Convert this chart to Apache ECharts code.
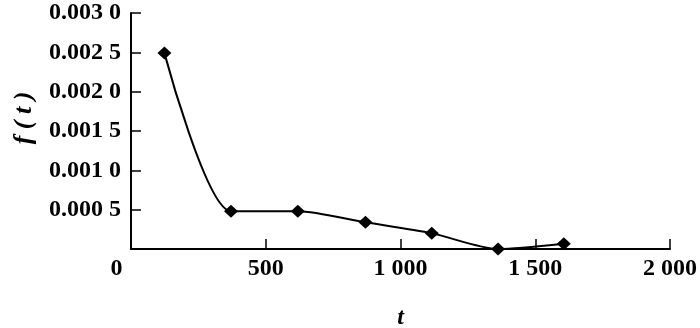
<!DOCTYPE html>
<html>
<head>
<meta charset="utf-8">
<script src="https://cdn.jsdelivr.net/npm/echarts@6/dist/echarts.min.js"></script>
<style>html,body{margin:0;padding:0;background:#fff}#c{width:700px;height:328px}</style>
</head>
<body>
<div id="c"></div>
<script>
const tValues = [124, 371, 619, 870, 1116, 1362, 1606];
const fValues = [0.00249, 0.00048, 0.00048, 0.00034, 0.00020, 0.0, 0.000068];
const xTicks = [0, 500, 1000, 1500, 2000];
const yTicks = [0, 0.0005, 0.001, 0.0015, 0.002, 0.0025, 0.003];
const xName = 't';
const yName = 'f ( t )';

const FONT = "'Liberation Serif','Times New Roman',serif";
const chart = echarts.init(document.getElementById('c'), null, {renderer: 'canvas'});

function fmtX(v) {
  if (v === 0) return '{z|0}';
  const s = String(Math.round(v));
  return s.length > 3 ? s.slice(0, s.length - 3) + ' ' + s.slice(-3) : s;
}
function fmtY(v) {
  if (Math.abs(v) < 1e-12) return '';
  const s = v.toFixed(4);
  return s.slice(0, 5) + ' ' + s.slice(5);
}

chart.setOption({
  backgroundColor: '#fff',
  animation: false,
  grid: {left: 131, right: 30, top: 13, bottom: 79, outerBoundsMode: 'none', containLabel: false},
  xAxis: {
    type: 'value',
    min: xTicks[0], max: xTicks[xTicks.length - 1], interval: 500,
    name: xName, nameLocation: 'middle', nameGap: 57,
    nameTextStyle: {fontFamily: FONT, fontStyle: 'italic', fontWeight: 'bold', fontSize: 24, color: '#000'},
    axisLine: {show: true, lineStyle: {color: '#000', width: 2}},
    axisTick: {show: true, inside: true, length: 10, lineStyle: {color: '#000', width: 1.5}},
    splitLine: {show: false},
    axisLabel: {
      margin: 8, color: '#000', fontFamily: FONT, fontWeight: 'bold', fontSize: 24,
      formatter: fmtX,
      rich: {z: {fontFamily: FONT, fontWeight: 'bold', fontSize: 24, color: '#000', padding: [0, 29, 0, 0]}}
    }
  },
  yAxis: {
    type: 'value',
    min: yTicks[0], max: yTicks[yTicks.length - 1], interval: 0.0005,
    name: yName, nameLocation: 'middle', nameGap: 94, nameRotate: 90,
    nameTextStyle: {fontFamily: FONT, fontStyle: 'italic', fontWeight: 'bold', fontSize: 26, color: '#000', padding: [0, 0, 0, 26]},
    axisLine: {show: true, lineStyle: {color: '#000', width: 2}},
    axisTick: {show: true, inside: true, length: 10, lineStyle: {color: '#000', width: 1.5}},
    splitLine: {show: false},
    axisLabel: {margin: 10, color: '#000', fontFamily: FONT, fontWeight: 'bold', fontSize: 24, formatter: fmtY}
  },
  series: [{
    type: 'line',
    data: tValues.map((t, i) => [t, fValues[i]]),
    smooth: 0.25,
    symbol: 'diamond',
    symbolSize: [14, 13],
    lineStyle: {color: '#000', width: 2},
    itemStyle: {color: '#000'}
  }]
});
</script>
</body>
</html>
